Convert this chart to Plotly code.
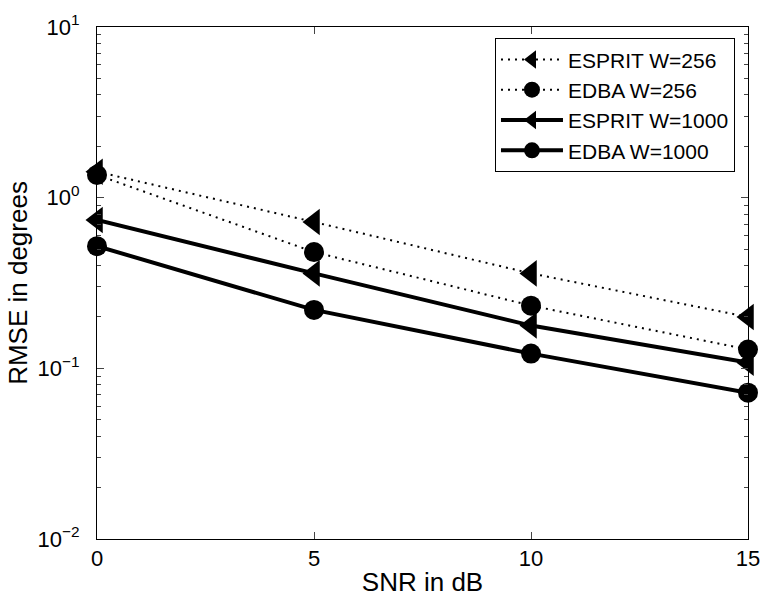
import plotly.graph_objects as go

snr = [0, 5, 10, 15]
esprit_256 = [1.42, 0.72, 0.36, 0.20]
edba_256 = [1.36, 0.48, 0.233, 0.129]
esprit_1000 = [0.74, 0.36, 0.178, 0.108]
edba_1000 = [0.52, 0.22, 0.122, 0.072]

ytick_vals = [0.01, 0.1, 1, 10]
ytick_text = ["10<sup>−2</sup>", "10<sup>−1</sup>", "10<sup>0</sup>", "10<sup>1</sup>"]
xtick_vals = [0, 5, 10, 15]

FONT = "Liberation Sans, Arial, Helvetica, sans-serif"

fig = go.Figure()
series = [
    ("ESPRIT W=256", esprit_256, "2px,5px", 2, "triangle-left", 23),
    ("EDBA W=256", edba_256, "2px,5px", 2, "circle", 20),
    ("ESPRIT W=1000", esprit_1000, "solid", 4, "triangle-left", 23),
    ("EDBA W=1000", edba_1000, "solid", 4, "circle", 20),
]
for name, ys, dash, w, sym, ms in series:
    fig.add_trace(go.Scatter(
        x=snr, y=ys, name=name, mode="lines+markers",
        line=dict(color="black", width=w, dash=dash),
        marker=dict(symbol=sym, size=ms, color="black"),
        cliponaxis=False,
    ))

fig.update_layout(
    width=761, height=598,
    margin=dict(l=97, r=13, t=27, b=59, autoexpand=False),
    paper_bgcolor="white", plot_bgcolor="white",
    font=dict(family=FONT, size=22, color="black"),
    showlegend=True,
    legend=dict(
        x=0.98, y=0.978, xanchor="right", yanchor="top",
        bordercolor="black", borderwidth=1, bgcolor="white",
        font=dict(size=21), itemwidth=62, tracegroupgap=0,
        entrywidth=180, entrywidthmode="pixels",
    ),
    xaxis=dict(
        range=[0, 15], tickvals=xtick_vals, ticks="inside", ticklen=7,
        showline=True, linecolor="black", linewidth=1, mirror="ticks",
        showgrid=False, zeroline=False, automargin=False,
        title=dict(text="SNR in dB", font=dict(size=26), standoff=2),
        tickfont=dict(size=22),
    ),
    yaxis=dict(
        type="log", range=[-2, 1], tickvals=ytick_vals, ticktext=ytick_text,
        ticks="inside", ticklen=7,
        minor=dict(ticks="inside", ticklen=4, dtick="D1", showgrid=False),
        showline=True, linecolor="black", linewidth=1, mirror="ticks",
        showgrid=False, zeroline=False, automargin=False,
        title=dict(text="RMSE in degrees", font=dict(size=26), standoff=2),
        tickfont=dict(size=22), ticklabelstandoff=12,
    ),
)

fig.write_html(
    "out.html",
    config={"displayModeBar": False},
    post_script="document.body.style.margin='0px';",
)
